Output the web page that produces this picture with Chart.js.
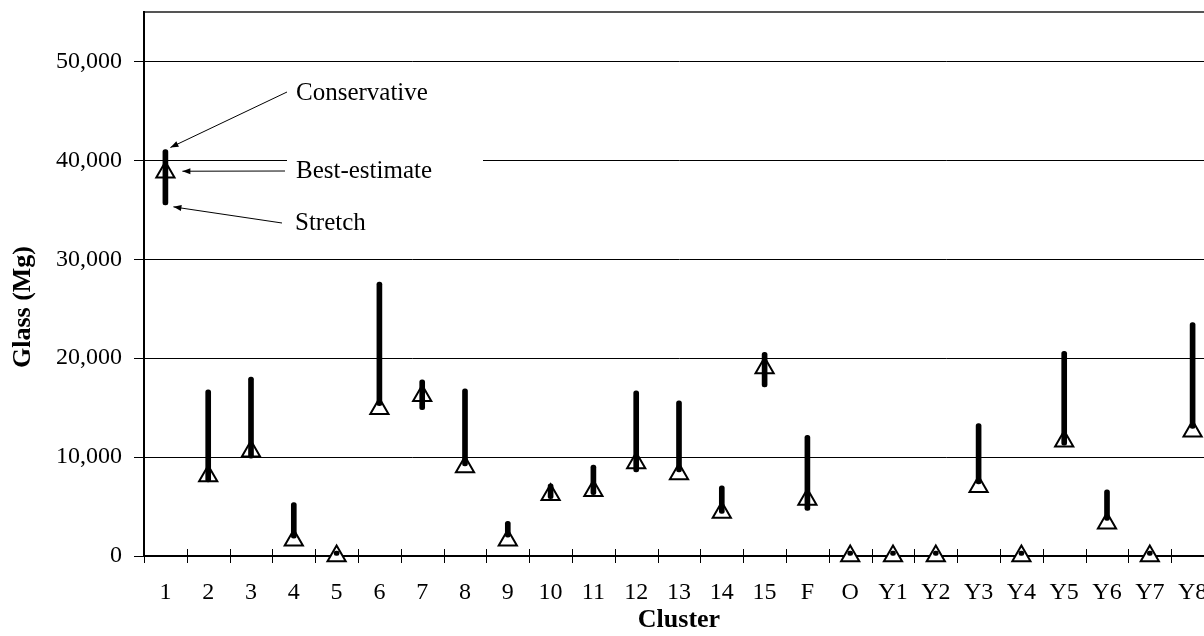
<!DOCTYPE html>
<html>
<head>
<meta charset="utf-8">
<script src="https://cdn.jsdelivr.net/npm/chart.js@4"></script>
<style>
  html, body { margin: 0; padding: 0; background: #fff; overflow: hidden; width: 1204px; height: 636px; }
  #wrap { position: relative; width: 1216px; height: 636px; }
</style>
</head>
<body>
<div id="wrap"><canvas id="glassChart"></canvas></div>
<script>
// Clusters on the x axis
const clusters = ["1", "2", "3", "4", "5", "6", "7", "8", "9", "10", "11", "12", "13", "14", "15",
  "F", "O", "Y1", "Y2", "Y3", "Y4", "Y5", "Y6", "Y7", "Y8"];

// Glass (Mg) per cluster
const conservative = [41100, 16800, 18100, 5400, 0, 27700, 17800, 16900, 3500, 7300, 9200, 16700, 15700, 7100, 20600,
  12200, 0, 0, 0, 13400, 0, 20700, 6700, 0, 23600];
const bestEstimate = [38800, 8100, 10600, 1600, 0, 14900, 16200, 9000, 1600, 6200, 6600, 9400, 8300, 4400, 19000,
  5700, 0, 0, 0, 7000, 0, 11600, 3300, 0, 12600];
const stretch = [35500, 7500, 9900, 1800, 0, 15200, 14800, 9100, 1900, 5800, 6200, 8500, 8500, 4300, 17100,
  4600, 0, 0, 0, 7300, 0, 11200, 3600, 0, 12900];

const yTicks = [0, 10000, 20000, 30000, 40000, 50000];
const yMax = 55000;

const serif = "'Liberation Serif', 'Times New Roman', serif";

// small arrow with a filled head
function arrow(ctx, x1, y1, x2, y2) {
  const a = Math.atan2(y2 - y1, x2 - x1);
  ctx.beginPath();
  ctx.moveTo(x1, y1);
  ctx.lineTo(x2, y2);
  ctx.stroke();
  ctx.beginPath();
  ctx.moveTo(x2, y2);
  ctx.lineTo(x2 - 8 * Math.cos(a) + 3 * Math.sin(a), y2 - 8 * Math.sin(a) - 3 * Math.cos(a));
  ctx.lineTo(x2 - 8 * Math.cos(a) - 3 * Math.sin(a), y2 - 8 * Math.sin(a) + 3 * Math.cos(a));
  ctx.closePath();
  ctx.fill();
}

// cross ticks on the x axis, axis titles, call-outs for cluster 1
const extras = {
  id: "extras",
  beforeDatasetsDraw(chart) {
    const ctx = chart.ctx;
    const x = chart.scales.x;
    const y0 = chart.scales.y.getPixelForValue(0);
    const w = x.getPixelForValue(1) - x.getPixelForValue(0);
    ctx.save();
    ctx.strokeStyle = "#000";
    ctx.lineWidth = 1;
    for (let i = 0; i <= clusters.length; i++) {
      const px = Math.round(x.getPixelForValue(0) - w / 2 + i * w) + 0.5;
      ctx.beginPath();
      ctx.moveTo(px, i === 0 ? y0 : y0 - 7);
      ctx.lineTo(px, y0 + 7);
      ctx.stroke();
    }
    ctx.restore();
  },
  afterDraw(chart) {
    const ctx = chart.ctx;
    const x = chart.scales.x;
    const y = chart.scales.y;
    ctx.save();

    // axis titles
    ctx.fillStyle = "#000";
    ctx.font = "bold 26px " + serif;
    ctx.textAlign = "center";
    ctx.textBaseline = "middle";
    ctx.fillText("Cluster", (chart.chartArea.left + chart.chartArea.right) / 2, 620);
    ctx.save();
    ctx.translate(23, 307);
    ctx.rotate(-Math.PI / 2);
    ctx.fillText("Glass (Mg)", 0, 0);
    ctx.restore();

    // call-outs
    const x0 = x.getPixelForValue(0);
    ctx.fillStyle = "#fff";
    ctx.fillRect(287, 153, 196, 36);
    ctx.fillStyle = "#000";
    ctx.strokeStyle = "#000";
    ctx.lineWidth = 1;
    ctx.font = "25px " + serif;
    ctx.textAlign = "left";
    ctx.fillText("Conservative", 296, 93);
    ctx.fillText("Best-estimate", 296, 171);
    ctx.fillText("Stretch", 295, 223);
    arrow(ctx, 287, 92, x0 + 5, y.getPixelForValue(conservative[0]) - 2);
    arrow(ctx, 285, 171, x0 + 17, y.getPixelForValue(bestEstimate[0]) - 1);
    arrow(ctx, 282, 223, x0 + 8, y.getPixelForValue(stretch[0]) + 2);
    ctx.restore();
  }
};

const ctx = document.getElementById("glassChart").getContext("2d");
const glassChart = new Chart(ctx, {
  type: "bar",
  data: {
    labels: clusters,
    datasets: [
      {
        type: "bar",
        label: "Range",
        data: clusters.map((c, i) => [stretch[i], conservative[i]]),
        backgroundColor: "#000",
        barThickness: 5,
        borderRadius: 3,
        borderSkipped: false,
        minBarLength: 5,
        clip: false,
        order: 0
      },
      {
        type: "line",
        label: "Best-estimate",
        data: bestEstimate,
        showLine: false,
        pointStyle: "triangle",
        pointRadius: 10.5,
        pointBorderWidth: 2,
        pointBorderColor: "#000",
        pointBackgroundColor: "#fff",
        clip: false,
        order: 1
      }
    ]
  },
  options: {
    responsive: true,
    maintainAspectRatio: false,
    devicePixelRatio: 1,
    animation: false,
    layout: { autoPadding: false, padding: { top: 12, right: 2, bottom: 0, left: 0 } },
    plugins: {
      legend: { display: false },
      tooltip: { enabled: false }
    },
    scales: {
      x: {
        offset: true,
        grid: { offset: true, drawOnChartArea: false, tickLength: 18, tickColor: "rgba(0,0,0,0)" },
        border: { color: "#000", width: 2 },
        ticks: {
          color: "#000",
          font: { family: serif, size: 24 },
          padding: 4,
          maxRotation: 0,
          autoSkip: false
        },
        afterFit: (s) => {
          s.height = 80;
          s.paddingLeft = 0;
          s.paddingRight = 0;
        }
      },
      y: {
        min: 0,
        max: yMax,
        afterBuildTicks: (s) => {
          s.ticks = yTicks.concat([yMax]).map((v) => ({ value: v }));
        },
        grid: {
          color: (c) => (c.tick && c.tick.value === yMax ? "#555" : "#000"),
          lineWidth: (c) => (c.tick && c.tick.value === yMax ? 2 : 1),
          tickColor: (c) => (c.tick && c.tick.value === yMax ? "rgba(0,0,0,0)" : "#000"),
          tickLength: 10
        },
        border: { color: "#000", width: 2 },
        ticks: {
          color: "#000",
          font: { family: serif, size: 24 },
          padding: 12,
          callback: (v) => (v === yMax ? "" : v.toLocaleString("en-US"))
        },
        afterFit: (s) => {
          s.width = 144;
          s.paddingTop = 0;
          s.paddingBottom = 0;
        }
      }
    }
  },
  plugins: [extras]
});
</script>
</body>
</html>
